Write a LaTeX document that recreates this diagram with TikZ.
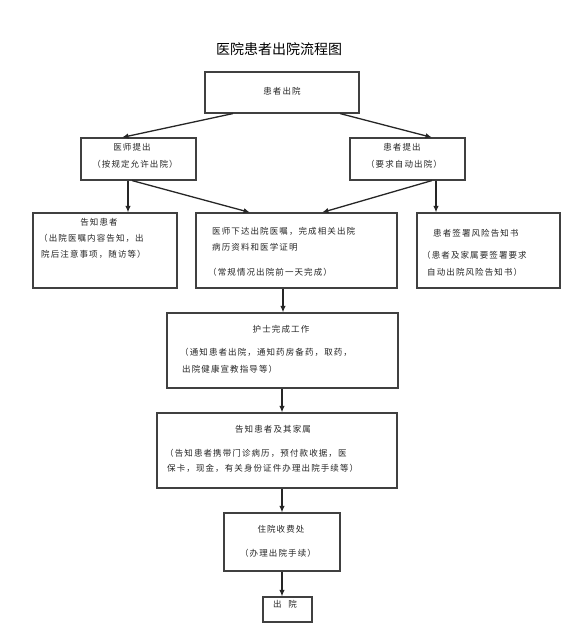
\documentclass[tikz,border=0pt]{standalone}
\usepackage{fontspec}
\setmainfont{Noto Sans CJK SC}
\newfontfamily\cjk[LetterSpace=13]{Noto Sans CJK SC}
\newfontfamily\cjktitle{Noto Sans CJK SC}
\usetikzlibrary{arrows.meta,calc}
\tikzset{
  box/.style={draw=black!75, line width=1.1pt, rectangle, inner sep=0pt, fill=white},
  txt/.style={inner sep=0pt, font=\cjk\fontsize{8.5}{10}\selectfont, text=black!85},
  conn/.style={draw=black!85, line width=1.3pt, -{Latex[length=6.5pt,width=5.5pt]}},
}
\begin{document}
\begin{tikzpicture}[x=1pt,y=-1pt]
\useasboundingbox (0,0) rectangle (585,630);
% title
\node[inner sep=0pt, font=\cjktitle\fontsize{14}{16}\selectfont] (title) at (279,49) {医院患者出院流程图};
% boxes
\node[box, minimum width=154pt, minimum height=41pt] (b1) at (282,92.5) {};
\node[box, minimum width=115pt, minimum height=42pt] (b2) at (138.5,159) {};
\node[box, minimum width=115pt, minimum height=42pt] (b3) at (407.5,159) {};
\node[box, minimum width=144pt, minimum height=75pt] (b4) at (105,250.5) {};
\node[box, minimum width=201pt, minimum height=75pt] (b5) at (296.5,250.5) {};
\node[box, minimum width=143pt, minimum height=75pt] (b6) at (488.5,250.5) {};
\node[box, minimum width=231pt, minimum height=75pt] (b7) at (282.5,350.5) {};
\node[box, minimum width=240pt, minimum height=75pt] (b8) at (277,450.5) {};
\node[box, minimum width=116pt, minimum height=58pt] (b9) at (282,542) {};
\node[box, minimum width=49pt, minimum height=25pt] (b10) at (287.5,609.5) {};
% texts
\node[txt] (t1) at (282,91.5) {患者出院};
\node[txt] (t2a) at (132,147) {医师提出};
\node[txt] (t2b) at (135,164) {（按规定允许出院）};
\node[txt] (t3a) at (402,147) {患者提出};
\node[txt] (t3b) at (404,164) {（要求自动出院）};
\node[txt] (t4a) at (99,222) {告知患者};
\node[txt, anchor=west] (t4b) at (39,238) {（出院医嘱内容告知，出};
\node[txt, anchor=west] (t4c) at (41,254) {院后注意事项，随访等）};
\node[txt, anchor=west] (t5a) at (212,231) {医师下达出院医嘱，完成相关出院};
\node[txt, anchor=west] (t5b) at (212,247) {病历资料和医学证明};
\node[txt, anchor=west] (t5c) at (208,272) {（常规情况出院前一天完成）};
\node[txt, anchor=west] (t6a) at (433,233) {患者签署风险告知书};
\node[txt, anchor=west] (t6b) at (422,255) {（患者及家属要签署要求};
\node[txt, anchor=west] (t6c) at (427,272) {自动出院风险告知书）};
\node[txt] (t7a) at (281,329) {护士完成工作};
\node[txt, anchor=west] (t7b) at (180,352) {（通知患者出院，通知药房备药，取药，};
\node[txt, anchor=west] (t7c) at (182,369) {出院健康宣教指导等）};
\node[txt] (t8a) at (273,429) {告知患者及其家属};
\node[txt, anchor=west] (t8b) at (165,453) {（告知患者携带门诊病历，预付款收据，医};
\node[txt, anchor=west] (t8c) at (167,468) {保卡，现金，有关身份证件办理出院手续等）};
\node[txt] (t9a) at (281,529) {住院收费处};
\node[txt] (t9b) at (278,553) {（办理出院手续）};
\node[txt] (t10) at (285,604) {出\hspace{7pt}院};
% connectors
\draw[conn] ([xshift=-49pt]b1.south) -- ([xshift=-16.5pt]b2.north);
\draw[conn] ([xshift=58pt]b1.south) -- ([xshift=24.5pt]b3.north);
\draw[conn] ([xshift=-10.5pt]b2.south) -- ([xshift=-10.5pt]b2.south |- b4.north);
\draw[conn] ([xshift=-6.5pt]b2.south) -- ([xshift=-46.5pt]b5.north);
\draw[conn] ([xshift=24.5pt]b3.south) -- ([xshift=25.5pt]b5.north);
\draw[conn] ([xshift=28.5pt]b3.south) -- ([xshift=28.5pt]b3.south |- b6.north);
\draw[conn] ([xshift=-13.5pt]b5.south) -- ([xshift=-13.5pt]b5.south |- b7.north);
\draw[conn] ([xshift=-0.5pt]b7.south) -- ([xshift=-0.5pt]b7.south |- b8.north);
\draw[conn] ([xshift=5pt]b8.south) -- ([xshift=5pt]b8.south |- b9.north);
\draw[conn] (b9.south) -- (b9.south |- b10.north);
\end{tikzpicture}
\end{document}
